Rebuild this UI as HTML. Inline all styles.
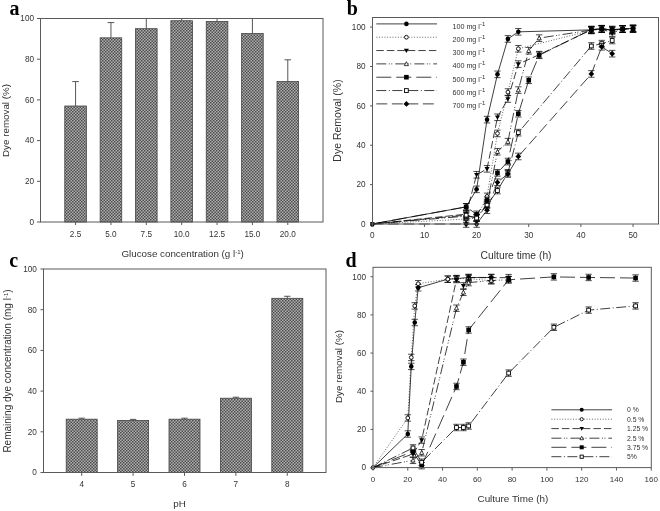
<!DOCTYPE html>
<html><head><meta charset="utf-8"><style>
html,body{margin:0;padding:0;background:#fff;width:660px;height:511px;overflow:hidden}
svg{display:block;filter:grayscale(1)}
text{font-family:"Liberation Sans",sans-serif}
.pl{font-family:"Liberation Serif",serif!important;font-weight:bold}
</style></head><body>
<svg width="660" height="511" viewBox="0 0 660 511" font-family="Liberation Sans, sans-serif" fill="#333">
<defs>
<pattern id="pt" x="0" y="0" width="3" height="3" patternUnits="userSpaceOnUse">
<rect width="3" height="3" fill="#b0b0b0"/>
<rect width="1.5" height="1.5" fill="#4c4c4c"/>
<rect x="1.5" y="1.5" width="1.5" height="1.5" fill="#4c4c4c"/>
</pattern>
</defs>
<rect width="660" height="511" fill="#fff"/>
<line x1="75.57" y1="106" x2="75.57" y2="81.59" stroke="#444" stroke-width="0.9" />
<line x1="72.27" y1="81.59" x2="78.87" y2="81.59" stroke="#444" stroke-width="0.9" />
<rect x="64.77" y="106" width="21.6" height="116" fill="url(#pt)" stroke="#444" stroke-width="0.8" />
<line x1="75.57" y1="222" x2="75.57" y2="225" stroke="#5a5a5a" stroke-width="1" />
<text x="75.57" y="236.8" font-size="8.2" text-anchor="middle" >2.5</text>
<line x1="110.94" y1="37.83" x2="110.94" y2="22.57" stroke="#444" stroke-width="0.9" />
<line x1="107.64" y1="22.57" x2="114.24" y2="22.57" stroke="#444" stroke-width="0.9" />
<rect x="100.14" y="37.83" width="21.6" height="184.17" fill="url(#pt)" stroke="#444" stroke-width="0.8" />
<line x1="110.94" y1="222" x2="110.94" y2="225" stroke="#5a5a5a" stroke-width="1" />
<text x="110.94" y="236.8" font-size="8.2" text-anchor="middle" >5.0</text>
<line x1="146.31" y1="28.68" x2="146.31" y2="18.5" stroke="#444" stroke-width="0.9" />
<rect x="135.51" y="28.68" width="21.6" height="193.32" fill="url(#pt)" stroke="#444" stroke-width="0.8" />
<line x1="146.31" y1="222" x2="146.31" y2="225" stroke="#5a5a5a" stroke-width="1" />
<text x="146.31" y="236.8" font-size="8.2" text-anchor="middle" >7.5</text>
<line x1="181.68" y1="20.74" x2="181.68" y2="18.5" stroke="#444" stroke-width="0.9" />
<rect x="170.88" y="20.74" width="21.6" height="201.26" fill="url(#pt)" stroke="#444" stroke-width="0.8" />
<line x1="181.68" y1="222" x2="181.68" y2="225" stroke="#5a5a5a" stroke-width="1" />
<text x="181.68" y="236.8" font-size="8.2" text-anchor="middle" >10.0</text>
<line x1="217.05" y1="21.55" x2="217.05" y2="18.5" stroke="#444" stroke-width="0.9" />
<rect x="206.25" y="21.55" width="21.6" height="200.45" fill="url(#pt)" stroke="#444" stroke-width="0.8" />
<line x1="217.05" y1="222" x2="217.05" y2="225" stroke="#5a5a5a" stroke-width="1" />
<text x="217.05" y="236.8" font-size="8.2" text-anchor="middle" >12.5</text>
<line x1="252.42" y1="33.56" x2="252.42" y2="18.5" stroke="#444" stroke-width="0.9" />
<rect x="241.62" y="33.56" width="21.6" height="188.44" fill="url(#pt)" stroke="#444" stroke-width="0.8" />
<line x1="252.42" y1="222" x2="252.42" y2="225" stroke="#5a5a5a" stroke-width="1" />
<text x="252.42" y="236.8" font-size="8.2" text-anchor="middle" >15.0</text>
<line x1="287.79" y1="81.59" x2="287.79" y2="59.81" stroke="#444" stroke-width="0.9" />
<line x1="284.49" y1="59.81" x2="291.09" y2="59.81" stroke="#444" stroke-width="0.9" />
<rect x="276.99" y="81.59" width="21.6" height="140.41" fill="url(#pt)" stroke="#444" stroke-width="0.8" />
<line x1="287.79" y1="222" x2="287.79" y2="225" stroke="#5a5a5a" stroke-width="1" />
<text x="287.79" y="236.8" font-size="8.2" text-anchor="middle" >20.0</text>
<rect x="40.5" y="18.5" width="282.5" height="203.5" fill="none" stroke="#5a5a5a" stroke-width="1" />
<line x1="37" y1="222" x2="40.5" y2="222" stroke="#5a5a5a" stroke-width="1" />
<text x="34" y="224.8" font-size="8.2" text-anchor="end" >0</text>
<line x1="37" y1="181.3" x2="40.5" y2="181.3" stroke="#5a5a5a" stroke-width="1" />
<text x="34" y="184.1" font-size="8.2" text-anchor="end" >20</text>
<line x1="37" y1="140.6" x2="40.5" y2="140.6" stroke="#5a5a5a" stroke-width="1" />
<text x="34" y="143.4" font-size="8.2" text-anchor="end" >40</text>
<line x1="37" y1="99.9" x2="40.5" y2="99.9" stroke="#5a5a5a" stroke-width="1" />
<text x="34" y="102.7" font-size="8.2" text-anchor="end" >60</text>
<line x1="37" y1="59.2" x2="40.5" y2="59.2" stroke="#5a5a5a" stroke-width="1" />
<text x="34" y="62" font-size="8.2" text-anchor="end" >80</text>
<line x1="37" y1="18.5" x2="40.5" y2="18.5" stroke="#5a5a5a" stroke-width="1" />
<text x="34" y="21.3" font-size="8.2" text-anchor="end" >100</text>
<text x="121.4" y="257.3" font-size="9.8" text-anchor="start" >Glucose concentration (g l<tspan dy="-3" font-size="6">-1</tspan><tspan dy="3">)</tspan></text>
<text transform="translate(8.6,120.5) rotate(-90)" font-size="9.8" text-anchor="middle">Dye removal (%)</text>
<text x="9.5" y="14.7" class="pl" font-size="20" fill="#000">a</text>
<line x1="81.7" y1="419.18" x2="81.7" y2="418.17" stroke="#444" stroke-width="0.9" />
<line x1="78.5" y1="418.17" x2="84.9" y2="418.17" stroke="#444" stroke-width="0.9" />
<rect x="66.2" y="419.18" width="31" height="53.32" fill="url(#pt)" stroke="#444" stroke-width="0.8" />
<line x1="81.7" y1="472.5" x2="81.7" y2="475.8" stroke="#5a5a5a" stroke-width="1" />
<text x="81.7" y="487.3" font-size="8.2" text-anchor="middle" >4</text>
<line x1="133.1" y1="420.4" x2="133.1" y2="419.39" stroke="#444" stroke-width="0.9" />
<line x1="129.9" y1="419.39" x2="136.3" y2="419.39" stroke="#444" stroke-width="0.9" />
<rect x="117.6" y="420.4" width="31" height="52.1" fill="url(#pt)" stroke="#444" stroke-width="0.8" />
<line x1="133.1" y1="472.5" x2="133.1" y2="475.8" stroke="#5a5a5a" stroke-width="1" />
<text x="133.1" y="487.3" font-size="8.2" text-anchor="middle" >5</text>
<line x1="184.5" y1="419.18" x2="184.5" y2="418.17" stroke="#444" stroke-width="0.9" />
<line x1="181.3" y1="418.17" x2="187.7" y2="418.17" stroke="#444" stroke-width="0.9" />
<rect x="169" y="419.18" width="31" height="53.32" fill="url(#pt)" stroke="#444" stroke-width="0.8" />
<line x1="184.5" y1="472.5" x2="184.5" y2="475.8" stroke="#5a5a5a" stroke-width="1" />
<text x="184.5" y="487.3" font-size="8.2" text-anchor="middle" >6</text>
<line x1="235.9" y1="398.22" x2="235.9" y2="397.2" stroke="#444" stroke-width="0.9" />
<line x1="232.7" y1="397.2" x2="239.1" y2="397.2" stroke="#444" stroke-width="0.9" />
<rect x="220.4" y="398.22" width="31" height="74.28" fill="url(#pt)" stroke="#444" stroke-width="0.8" />
<line x1="235.9" y1="472.5" x2="235.9" y2="475.8" stroke="#5a5a5a" stroke-width="1" />
<text x="235.9" y="487.3" font-size="8.2" text-anchor="middle" >7</text>
<line x1="287.3" y1="298.3" x2="287.3" y2="296.27" stroke="#444" stroke-width="0.9" />
<line x1="284.1" y1="296.27" x2="290.5" y2="296.27" stroke="#444" stroke-width="0.9" />
<rect x="271.8" y="298.3" width="31" height="174.2" fill="url(#pt)" stroke="#444" stroke-width="0.8" />
<line x1="287.3" y1="472.5" x2="287.3" y2="475.8" stroke="#5a5a5a" stroke-width="1" />
<text x="287.3" y="487.3" font-size="8.2" text-anchor="middle" >8</text>
<rect x="43.5" y="269" width="282.5" height="203.5" fill="none" stroke="#5a5a5a" stroke-width="1" />
<line x1="40.5" y1="472.5" x2="43.5" y2="472.5" stroke="#5a5a5a" stroke-width="1" />
<text x="36.8" y="475.3" font-size="8.2" text-anchor="end" >0</text>
<line x1="40.5" y1="431.8" x2="43.5" y2="431.8" stroke="#5a5a5a" stroke-width="1" />
<text x="36.8" y="434.6" font-size="8.2" text-anchor="end" >20</text>
<line x1="40.5" y1="391.1" x2="43.5" y2="391.1" stroke="#5a5a5a" stroke-width="1" />
<text x="36.8" y="393.9" font-size="8.2" text-anchor="end" >40</text>
<line x1="40.5" y1="350.4" x2="43.5" y2="350.4" stroke="#5a5a5a" stroke-width="1" />
<text x="36.8" y="353.2" font-size="8.2" text-anchor="end" >60</text>
<line x1="40.5" y1="309.7" x2="43.5" y2="309.7" stroke="#5a5a5a" stroke-width="1" />
<text x="36.8" y="312.5" font-size="8.2" text-anchor="end" >80</text>
<line x1="40.5" y1="269" x2="43.5" y2="269" stroke="#5a5a5a" stroke-width="1" />
<text x="36.8" y="271.8" font-size="8.2" text-anchor="end" >100</text>
<text x="173.3" y="507.3" font-size="9.8" text-anchor="start" >pH</text>
<text transform="translate(11.3,371) rotate(-90)" font-size="10" text-anchor="middle">Remaining dye concentration (mg l<tspan dy="-3" font-size="6">-1</tspan><tspan dy="3">)</tspan></text>
<text x="9.3" y="266.8" class="pl" font-size="20" fill="#000">c</text>
<polyline points="372.3,224 466.17,206.87 476.6,189.35 487.03,119.64 497.46,74.36 507.89,38.91 518.32,31.83 591.33,29.86 601.76,28.87 612.19,30.05 622.62,28.87 633.05,28.28" fill="none" stroke="#000" stroke-width="0.75" />
<polyline points="372.3,224 466.17,219.08 476.6,218.09 487.03,196.43 497.46,133.43 507.89,92.08 518.32,48.76 591.33,30.45 601.76,29.07 612.19,31.04 622.62,29.07 633.05,28.68" fill="none" stroke="#000" stroke-width="0.6" stroke-dasharray="1,1.7"/>
<polyline points="372.3,224 466.17,214.16 476.6,174.78 487.03,168.87 497.46,117.28 507.89,98.97 518.32,64.12 539.18,54.67 591.33,29.86 601.76,29.07 612.19,33.01 622.62,29.07 633.05,28.48" fill="none" stroke="#000" stroke-width="0.75" stroke-dasharray="7.5,3"/>
<polyline points="372.3,224 466.17,216.12 476.6,217.5 487.03,204.31 497.46,151.74 507.89,141.7 518.32,90.11 528.75,50.73 539.18,38.13 591.33,30.05 601.76,29.07 612.19,30.05 622.62,29.07 633.05,29.07" fill="none" stroke="#000" stroke-width="0.75" stroke-dasharray="10,2.5,1,1.5,1,3"/>
<polyline points="372.3,224 466.17,206.87 476.6,214.35 487.03,200.37 497.46,172.81 507.89,161.58 518.32,113.74 528.75,80.26 539.18,55.26 591.33,29.46 601.76,28.68 612.19,29.46 622.62,29.07 633.05,29.07" fill="none" stroke="#000" stroke-width="0.75" stroke-dasharray="15,5"/>
<polyline points="372.3,224 466.17,215.14 476.6,218.09 487.03,205.1 497.46,190.53 507.89,172.81 518.32,132.64 591.33,46 601.76,43.64 612.19,40.49" fill="none" stroke="#000" stroke-width="0.75" stroke-dasharray="10,2.5,1,2.5"/>
<polyline points="372.3,224 466.17,224 476.6,224 487.03,210.22 497.46,182.26 507.89,173.99 518.32,156.46 591.33,73.96 601.76,46.79 612.19,53.68" fill="none" stroke="#000" stroke-width="0.75" stroke-dasharray="11,4.5"/>
<path d="M466.17 203.57V210.17M462.97 203.57H469.37M462.97 210.17H469.37" stroke="#000" stroke-width="0.7" fill="none"/>
<circle cx="466.17" cy="206.87" r="2.3" fill="#000"/>
<path d="M476.6 186.05V192.65M473.4 186.05H479.8M473.4 192.65H479.8" stroke="#000" stroke-width="0.7" fill="none"/>
<circle cx="476.6" cy="189.35" r="2.3" fill="#000"/>
<path d="M487.03 116.34V122.94M483.83 116.34H490.23M483.83 122.94H490.23" stroke="#000" stroke-width="0.7" fill="none"/>
<circle cx="487.03" cy="119.64" r="2.3" fill="#000"/>
<path d="M497.46 71.06V77.66M494.26 71.06H500.66M494.26 77.66H500.66" stroke="#000" stroke-width="0.7" fill="none"/>
<circle cx="497.46" cy="74.36" r="2.3" fill="#000"/>
<path d="M507.89 35.61V42.21M504.69 35.61H511.09M504.69 42.21H511.09" stroke="#000" stroke-width="0.7" fill="none"/>
<circle cx="507.89" cy="38.91" r="2.3" fill="#000"/>
<path d="M518.32 28.53V35.13M515.12 28.53H521.52M515.12 35.13H521.52" stroke="#000" stroke-width="0.7" fill="none"/>
<circle cx="518.32" cy="31.83" r="2.3" fill="#000"/>
<path d="M591.33 26.56V33.16M588.13 26.56H594.53M588.13 33.16H594.53" stroke="#000" stroke-width="0.7" fill="none"/>
<circle cx="591.33" cy="29.86" r="2.3" fill="#000"/>
<path d="M601.76 25.57V32.17M598.56 25.57H604.96M598.56 32.17H604.96" stroke="#000" stroke-width="0.7" fill="none"/>
<circle cx="601.76" cy="28.87" r="2.3" fill="#000"/>
<path d="M612.19 26.75V33.35M608.99 26.75H615.39M608.99 33.35H615.39" stroke="#000" stroke-width="0.7" fill="none"/>
<circle cx="612.19" cy="30.05" r="2.3" fill="#000"/>
<path d="M622.62 25.57V32.17M619.42 25.57H625.82M619.42 32.17H625.82" stroke="#000" stroke-width="0.7" fill="none"/>
<circle cx="622.62" cy="28.87" r="2.3" fill="#000"/>
<path d="M633.05 24.98V31.58M629.85 24.98H636.25M629.85 31.58H636.25" stroke="#000" stroke-width="0.7" fill="none"/>
<circle cx="633.05" cy="28.28" r="2.3" fill="#000"/>
<path d="M466.17 215.78V222.38M462.97 215.78H469.37M462.97 222.38H469.37" stroke="#000" stroke-width="0.7" fill="none"/>
<circle cx="466.17" cy="219.08" r="1.9" fill="#fff" stroke="#000" stroke-width="0.9"/>
<path d="M476.6 214.79V221.39M473.4 214.79H479.8M473.4 221.39H479.8" stroke="#000" stroke-width="0.7" fill="none"/>
<circle cx="476.6" cy="218.09" r="1.9" fill="#fff" stroke="#000" stroke-width="0.9"/>
<path d="M487.03 193.13V199.73M483.83 193.13H490.23M483.83 199.73H490.23" stroke="#000" stroke-width="0.7" fill="none"/>
<circle cx="487.03" cy="196.43" r="1.9" fill="#fff" stroke="#000" stroke-width="0.9"/>
<path d="M497.46 130.13V136.73M494.26 130.13H500.66M494.26 136.73H500.66" stroke="#000" stroke-width="0.7" fill="none"/>
<circle cx="497.46" cy="133.43" r="1.9" fill="#fff" stroke="#000" stroke-width="0.9"/>
<path d="M507.89 88.78V95.38M504.69 88.78H511.09M504.69 95.38H511.09" stroke="#000" stroke-width="0.7" fill="none"/>
<circle cx="507.89" cy="92.08" r="1.9" fill="#fff" stroke="#000" stroke-width="0.9"/>
<path d="M518.32 45.46V52.06M515.12 45.46H521.52M515.12 52.06H521.52" stroke="#000" stroke-width="0.7" fill="none"/>
<circle cx="518.32" cy="48.76" r="1.9" fill="#fff" stroke="#000" stroke-width="0.9"/>
<path d="M591.33 27.15V33.75M588.13 27.15H594.53M588.13 33.75H594.53" stroke="#000" stroke-width="0.7" fill="none"/>
<circle cx="591.33" cy="30.45" r="1.9" fill="#fff" stroke="#000" stroke-width="0.9"/>
<path d="M601.76 25.77V32.37M598.56 25.77H604.96M598.56 32.37H604.96" stroke="#000" stroke-width="0.7" fill="none"/>
<circle cx="601.76" cy="29.07" r="1.9" fill="#fff" stroke="#000" stroke-width="0.9"/>
<path d="M612.19 27.74V34.34M608.99 27.74H615.39M608.99 34.34H615.39" stroke="#000" stroke-width="0.7" fill="none"/>
<circle cx="612.19" cy="31.04" r="1.9" fill="#fff" stroke="#000" stroke-width="0.9"/>
<path d="M622.62 25.77V32.37M619.42 25.77H625.82M619.42 32.37H625.82" stroke="#000" stroke-width="0.7" fill="none"/>
<circle cx="622.62" cy="29.07" r="1.9" fill="#fff" stroke="#000" stroke-width="0.9"/>
<path d="M633.05 25.38V31.98M629.85 25.38H636.25M629.85 31.98H636.25" stroke="#000" stroke-width="0.7" fill="none"/>
<circle cx="633.05" cy="28.68" r="1.9" fill="#fff" stroke="#000" stroke-width="0.9"/>
<path d="M466.17 210.85V217.46M462.97 210.85H469.37M462.97 217.46H469.37" stroke="#000" stroke-width="0.7" fill="none"/>
<path d="M463.64 212.31H468.7L466.17 216.69Z" fill="#000"/>
<path d="M476.6 171.47V178.08M473.4 171.47H479.8M473.4 178.08H479.8" stroke="#000" stroke-width="0.7" fill="none"/>
<path d="M474.07 172.94H479.13L476.6 177.31Z" fill="#000"/>
<path d="M487.03 165.57V172.17M483.83 165.57H490.23M483.83 172.17H490.23" stroke="#000" stroke-width="0.7" fill="none"/>
<path d="M484.5 167.03H489.56L487.03 171.4Z" fill="#000"/>
<path d="M497.46 113.98V120.58M494.26 113.98H500.66M494.26 120.58H500.66" stroke="#000" stroke-width="0.7" fill="none"/>
<path d="M494.93 115.44H499.99L497.46 119.81Z" fill="#000"/>
<path d="M507.89 95.67V102.27M504.69 95.67H511.09M504.69 102.27H511.09" stroke="#000" stroke-width="0.7" fill="none"/>
<path d="M505.36 97.13H510.42L507.89 101.5Z" fill="#000"/>
<path d="M518.32 60.82V67.42M515.12 60.82H521.52M515.12 67.42H521.52" stroke="#000" stroke-width="0.7" fill="none"/>
<path d="M515.79 62.28H520.85L518.32 66.65Z" fill="#000"/>
<path d="M539.18 51.37V57.97M535.98 51.37H542.38M535.98 57.97H542.38" stroke="#000" stroke-width="0.7" fill="none"/>
<path d="M536.65 52.83H541.71L539.18 57.2Z" fill="#000"/>
<path d="M591.33 26.56V33.16M588.13 26.56H594.53M588.13 33.16H594.53" stroke="#000" stroke-width="0.7" fill="none"/>
<path d="M588.8 28.02H593.86L591.33 32.39Z" fill="#000"/>
<path d="M601.76 25.77V32.37M598.56 25.77H604.96M598.56 32.37H604.96" stroke="#000" stroke-width="0.7" fill="none"/>
<path d="M599.23 27.23H604.29L601.76 31.6Z" fill="#000"/>
<path d="M612.19 29.71V36.31M608.99 29.71H615.39M608.99 36.31H615.39" stroke="#000" stroke-width="0.7" fill="none"/>
<path d="M609.66 31.17H614.72L612.19 35.54Z" fill="#000"/>
<path d="M622.62 25.77V32.37M619.42 25.77H625.82M619.42 32.37H625.82" stroke="#000" stroke-width="0.7" fill="none"/>
<path d="M620.09 27.23H625.15L622.62 31.6Z" fill="#000"/>
<path d="M633.05 25.18V31.78M629.85 25.18H636.25M629.85 31.78H636.25" stroke="#000" stroke-width="0.7" fill="none"/>
<path d="M630.52 26.64H635.58L633.05 31.01Z" fill="#000"/>
<path d="M466.17 212.82V219.42M462.97 212.82H469.37M462.97 219.42H469.37" stroke="#000" stroke-width="0.7" fill="none"/>
<path d="M464.1 217.85H468.24L466.17 213.94Z" fill="#fff" stroke="#000" stroke-width="0.75"/>
<path d="M476.6 214.2V220.8M473.4 214.2H479.8M473.4 220.8H479.8" stroke="#000" stroke-width="0.7" fill="none"/>
<path d="M474.53 219.23H478.67L476.6 215.32Z" fill="#fff" stroke="#000" stroke-width="0.75"/>
<path d="M487.03 201.01V207.61M483.83 201.01H490.23M483.83 207.61H490.23" stroke="#000" stroke-width="0.7" fill="none"/>
<path d="M484.96 206.03H489.1L487.03 202.12Z" fill="#fff" stroke="#000" stroke-width="0.75"/>
<path d="M497.46 148.44V155.04M494.26 148.44H500.66M494.26 155.04H500.66" stroke="#000" stroke-width="0.7" fill="none"/>
<path d="M495.39 153.46H499.53L497.46 149.55Z" fill="#fff" stroke="#000" stroke-width="0.75"/>
<path d="M507.89 138.4V145M504.69 138.4H511.09M504.69 145H511.09" stroke="#000" stroke-width="0.7" fill="none"/>
<path d="M505.82 143.42H509.96L507.89 139.51Z" fill="#fff" stroke="#000" stroke-width="0.75"/>
<path d="M518.32 86.81V93.41M515.12 86.81H521.52M515.12 93.41H521.52" stroke="#000" stroke-width="0.7" fill="none"/>
<path d="M516.25 91.83H520.39L518.32 87.92Z" fill="#fff" stroke="#000" stroke-width="0.75"/>
<path d="M528.75 47.43V54.03M525.55 47.43H531.95M525.55 54.03H531.95" stroke="#000" stroke-width="0.7" fill="none"/>
<path d="M526.68 52.45H530.82L528.75 48.54Z" fill="#fff" stroke="#000" stroke-width="0.75"/>
<path d="M539.18 34.83V41.43M535.98 34.83H542.38M535.98 41.43H542.38" stroke="#000" stroke-width="0.7" fill="none"/>
<path d="M537.11 39.85H541.25L539.18 35.94Z" fill="#fff" stroke="#000" stroke-width="0.75"/>
<path d="M591.33 26.75V33.35M588.13 26.75H594.53M588.13 33.35H594.53" stroke="#000" stroke-width="0.7" fill="none"/>
<path d="M589.26 31.78H593.4L591.33 27.87Z" fill="#fff" stroke="#000" stroke-width="0.75"/>
<path d="M601.76 25.77V32.37M598.56 25.77H604.96M598.56 32.37H604.96" stroke="#000" stroke-width="0.7" fill="none"/>
<path d="M599.69 30.79H603.83L601.76 26.88Z" fill="#fff" stroke="#000" stroke-width="0.75"/>
<path d="M612.19 26.75V33.35M608.99 26.75H615.39M608.99 33.35H615.39" stroke="#000" stroke-width="0.7" fill="none"/>
<path d="M610.12 31.78H614.26L612.19 27.87Z" fill="#fff" stroke="#000" stroke-width="0.75"/>
<path d="M622.62 25.77V32.37M619.42 25.77H625.82M619.42 32.37H625.82" stroke="#000" stroke-width="0.7" fill="none"/>
<path d="M620.55 30.79H624.69L622.62 26.88Z" fill="#fff" stroke="#000" stroke-width="0.75"/>
<path d="M633.05 25.77V32.37M629.85 25.77H636.25M629.85 32.37H636.25" stroke="#000" stroke-width="0.7" fill="none"/>
<path d="M630.98 30.79H635.12L633.05 26.88Z" fill="#fff" stroke="#000" stroke-width="0.75"/>
<path d="M466.17 203.57V210.17M462.97 203.57H469.37M462.97 210.17H469.37" stroke="#000" stroke-width="0.7" fill="none"/>
<rect x="463.87" y="204.57" width="4.6" height="4.6" fill="#000"/>
<path d="M476.6 211.05V217.65M473.4 211.05H479.8M473.4 217.65H479.8" stroke="#000" stroke-width="0.7" fill="none"/>
<rect x="474.3" y="212.05" width="4.6" height="4.6" fill="#000"/>
<path d="M487.03 197.07V203.67M483.83 197.07H490.23M483.83 203.67H490.23" stroke="#000" stroke-width="0.7" fill="none"/>
<rect x="484.73" y="198.07" width="4.6" height="4.6" fill="#000"/>
<path d="M497.46 169.51V176.11M494.26 169.51H500.66M494.26 176.11H500.66" stroke="#000" stroke-width="0.7" fill="none"/>
<rect x="495.16" y="170.51" width="4.6" height="4.6" fill="#000"/>
<path d="M507.89 158.28V164.88M504.69 158.28H511.09M504.69 164.88H511.09" stroke="#000" stroke-width="0.7" fill="none"/>
<rect x="505.59" y="159.28" width="4.6" height="4.6" fill="#000"/>
<path d="M518.32 110.44V117.04M515.12 110.44H521.52M515.12 117.04H521.52" stroke="#000" stroke-width="0.7" fill="none"/>
<rect x="516.02" y="111.44" width="4.6" height="4.6" fill="#000"/>
<path d="M528.75 76.96V83.56M525.55 76.96H531.95M525.55 83.56H531.95" stroke="#000" stroke-width="0.7" fill="none"/>
<rect x="526.45" y="77.96" width="4.6" height="4.6" fill="#000"/>
<path d="M539.18 51.96V58.56M535.98 51.96H542.38M535.98 58.56H542.38" stroke="#000" stroke-width="0.7" fill="none"/>
<rect x="536.88" y="52.96" width="4.6" height="4.6" fill="#000"/>
<path d="M591.33 26.16V32.76M588.13 26.16H594.53M588.13 32.76H594.53" stroke="#000" stroke-width="0.7" fill="none"/>
<rect x="589.03" y="27.16" width="4.6" height="4.6" fill="#000"/>
<path d="M601.76 25.38V31.98M598.56 25.38H604.96M598.56 31.98H604.96" stroke="#000" stroke-width="0.7" fill="none"/>
<rect x="599.46" y="26.38" width="4.6" height="4.6" fill="#000"/>
<path d="M612.19 26.16V32.76M608.99 26.16H615.39M608.99 32.76H615.39" stroke="#000" stroke-width="0.7" fill="none"/>
<rect x="609.89" y="27.16" width="4.6" height="4.6" fill="#000"/>
<path d="M622.62 25.77V32.37M619.42 25.77H625.82M619.42 32.37H625.82" stroke="#000" stroke-width="0.7" fill="none"/>
<rect x="620.32" y="26.77" width="4.6" height="4.6" fill="#000"/>
<path d="M633.05 25.77V32.37M629.85 25.77H636.25M629.85 32.37H636.25" stroke="#000" stroke-width="0.7" fill="none"/>
<rect x="630.75" y="26.77" width="4.6" height="4.6" fill="#000"/>
<path d="M466.17 211.84V218.44M462.97 211.84H469.37M462.97 218.44H469.37" stroke="#000" stroke-width="0.7" fill="none"/>
<rect x="464.27" y="213.24" width="3.8" height="3.8" fill="#fff" stroke="#000" stroke-width="0.9"/>
<path d="M476.6 214.79V221.39M473.4 214.79H479.8M473.4 221.39H479.8" stroke="#000" stroke-width="0.7" fill="none"/>
<rect x="474.7" y="216.19" width="3.8" height="3.8" fill="#fff" stroke="#000" stroke-width="0.9"/>
<path d="M487.03 201.8V208.4M483.83 201.8H490.23M483.83 208.4H490.23" stroke="#000" stroke-width="0.7" fill="none"/>
<rect x="485.13" y="203.2" width="3.8" height="3.8" fill="#fff" stroke="#000" stroke-width="0.9"/>
<path d="M497.46 187.23V193.83M494.26 187.23H500.66M494.26 193.83H500.66" stroke="#000" stroke-width="0.7" fill="none"/>
<rect x="495.56" y="188.63" width="3.8" height="3.8" fill="#fff" stroke="#000" stroke-width="0.9"/>
<path d="M507.89 169.51V176.11M504.69 169.51H511.09M504.69 176.11H511.09" stroke="#000" stroke-width="0.7" fill="none"/>
<rect x="505.99" y="170.91" width="3.8" height="3.8" fill="#fff" stroke="#000" stroke-width="0.9"/>
<path d="M518.32 129.34V135.94M515.12 129.34H521.52M515.12 135.94H521.52" stroke="#000" stroke-width="0.7" fill="none"/>
<rect x="516.42" y="130.74" width="3.8" height="3.8" fill="#fff" stroke="#000" stroke-width="0.9"/>
<path d="M591.33 42.7V49.3M588.13 42.7H594.53M588.13 49.3H594.53" stroke="#000" stroke-width="0.7" fill="none"/>
<rect x="589.43" y="44.1" width="3.8" height="3.8" fill="#fff" stroke="#000" stroke-width="0.9"/>
<path d="M601.76 40.34V46.94M598.56 40.34H604.96M598.56 46.94H604.96" stroke="#000" stroke-width="0.7" fill="none"/>
<rect x="599.86" y="41.74" width="3.8" height="3.8" fill="#fff" stroke="#000" stroke-width="0.9"/>
<path d="M612.19 37.19V43.79M608.99 37.19H615.39M608.99 43.79H615.39" stroke="#000" stroke-width="0.7" fill="none"/>
<rect x="610.29" y="38.59" width="3.8" height="3.8" fill="#fff" stroke="#000" stroke-width="0.9"/>
<path d="M466.17 220.7V227.3M462.97 220.7H469.37M462.97 227.3H469.37" stroke="#000" stroke-width="0.7" fill="none"/>
<path d="M466.17 221.12L469.05 224L466.17 226.88L463.3 224Z" fill="#000"/>
<path d="M476.6 220.7V227.3M473.4 220.7H479.8M473.4 227.3H479.8" stroke="#000" stroke-width="0.7" fill="none"/>
<path d="M476.6 221.12L479.48 224L476.6 226.88L473.73 224Z" fill="#000"/>
<path d="M487.03 206.92V213.52M483.83 206.92H490.23M483.83 213.52H490.23" stroke="#000" stroke-width="0.7" fill="none"/>
<path d="M487.03 207.34L489.9 210.22L487.03 213.09L484.15 210.22Z" fill="#000"/>
<path d="M497.46 178.96V185.56M494.26 178.96H500.66M494.26 185.56H500.66" stroke="#000" stroke-width="0.7" fill="none"/>
<path d="M497.46 179.38L500.34 182.26L497.46 185.13L494.59 182.26Z" fill="#000"/>
<path d="M507.89 170.69V177.29M504.69 170.69H511.09M504.69 177.29H511.09" stroke="#000" stroke-width="0.7" fill="none"/>
<path d="M507.89 171.11L510.76 173.99L507.89 176.86L505.01 173.99Z" fill="#000"/>
<path d="M518.32 153.16V159.76M515.12 153.16H521.52M515.12 159.76H521.52" stroke="#000" stroke-width="0.7" fill="none"/>
<path d="M518.32 153.59L521.19 156.46L518.32 159.34L515.44 156.46Z" fill="#000"/>
<path d="M591.33 70.66V77.26M588.13 70.66H594.53M588.13 77.26H594.53" stroke="#000" stroke-width="0.7" fill="none"/>
<path d="M591.33 71.09L594.21 73.96L591.33 76.84L588.46 73.96Z" fill="#000"/>
<path d="M601.76 43.49V50.09M598.56 43.49H604.96M598.56 50.09H604.96" stroke="#000" stroke-width="0.7" fill="none"/>
<path d="M601.76 43.91L604.63 46.79L601.76 49.66L598.88 46.79Z" fill="#000"/>
<path d="M612.19 50.38V56.98M608.99 50.38H615.39M608.99 56.98H615.39" stroke="#000" stroke-width="0.7" fill="none"/>
<path d="M612.19 50.81L615.07 53.68L612.19 56.56L609.32 53.68Z" fill="#000"/>
<path d="M369.77 222.16H374.83L372.3 226.53Z" fill="#000"/>
<circle cx="372.3" cy="224.5" r="2.3" fill="#000"/>
<rect x="372.5" y="17.5" width="286" height="206.5" fill="none" stroke="#5a5a5a" stroke-width="1" />
<line x1="370" y1="224" x2="372.5" y2="224" stroke="#5a5a5a" stroke-width="1" />
<text x="365.5" y="226.8" font-size="8.2" text-anchor="end" >0</text>
<line x1="370" y1="184.62" x2="372.5" y2="184.62" stroke="#5a5a5a" stroke-width="1" />
<text x="365.5" y="187.42" font-size="8.2" text-anchor="end" >20</text>
<line x1="370" y1="145.24" x2="372.5" y2="145.24" stroke="#5a5a5a" stroke-width="1" />
<text x="365.5" y="148.04" font-size="8.2" text-anchor="end" >40</text>
<line x1="370" y1="105.86" x2="372.5" y2="105.86" stroke="#5a5a5a" stroke-width="1" />
<text x="365.5" y="108.66" font-size="8.2" text-anchor="end" >60</text>
<line x1="370" y1="66.48" x2="372.5" y2="66.48" stroke="#5a5a5a" stroke-width="1" />
<text x="365.5" y="69.28" font-size="8.2" text-anchor="end" >80</text>
<line x1="370" y1="27.1" x2="372.5" y2="27.1" stroke="#5a5a5a" stroke-width="1" />
<text x="365.5" y="29.9" font-size="8.2" text-anchor="end" >100</text>
<line x1="372.3" y1="224" x2="372.3" y2="227" stroke="#5a5a5a" stroke-width="1" />
<text x="372.3" y="238" font-size="8.2" text-anchor="middle" >0</text>
<line x1="424.45" y1="224" x2="424.45" y2="227" stroke="#5a5a5a" stroke-width="1" />
<text x="424.45" y="238" font-size="8.2" text-anchor="middle" >10</text>
<line x1="476.6" y1="224" x2="476.6" y2="227" stroke="#5a5a5a" stroke-width="1" />
<text x="476.6" y="238" font-size="8.2" text-anchor="middle" >20</text>
<line x1="528.75" y1="224" x2="528.75" y2="227" stroke="#5a5a5a" stroke-width="1" />
<text x="528.75" y="238" font-size="8.2" text-anchor="middle" >30</text>
<line x1="580.9" y1="224" x2="580.9" y2="227" stroke="#5a5a5a" stroke-width="1" />
<text x="580.9" y="238" font-size="8.2" text-anchor="middle" >40</text>
<line x1="633.05" y1="224" x2="633.05" y2="227" stroke="#5a5a5a" stroke-width="1" />
<text x="633.05" y="238" font-size="8.2" text-anchor="middle" >50</text>
<text x="480.6" y="259.2" font-size="10.3" text-anchor="start" >Culture time (h)</text>
<text transform="translate(341,120.5) rotate(-90)" font-size="10.5" text-anchor="middle">Dye Removal (%)</text>
<text x="346.8" y="14.6" class="pl" font-size="20" fill="#000">b</text>
<line x1="376.3" y1="23.9" x2="437" y2="23.9" stroke="#000" stroke-width="0.75" />
<circle cx="406.4" cy="23.9" r="2.3" fill="#000"/>
<text x="452.4" y="28.5" font-size="7.2" text-anchor="start" >100 mg l<tspan dy="-3" font-size="6">-1</tspan><tspan dy="3"></tspan></text>
<line x1="376.3" y1="37.23" x2="437" y2="37.23" stroke="#000" stroke-width="0.6" stroke-dasharray="1,1.7"/>
<circle cx="406.4" cy="37.23" r="1.9" fill="#fff" stroke="#000" stroke-width="0.9"/>
<text x="452.4" y="41.83" font-size="7.2" text-anchor="start" >200 mg l<tspan dy="-3" font-size="6">-1</tspan><tspan dy="3"></tspan></text>
<line x1="376.3" y1="50.56" x2="437" y2="50.56" stroke="#000" stroke-width="0.75" stroke-dasharray="7.5,3"/>
<path d="M403.87 48.72H408.93L406.4 53.09Z" fill="#000"/>
<text x="452.4" y="55.16" font-size="7.2" text-anchor="start" >300 mg l<tspan dy="-3" font-size="6">-1</tspan><tspan dy="3"></tspan></text>
<line x1="376.3" y1="63.89" x2="437" y2="63.89" stroke="#000" stroke-width="0.75" stroke-dasharray="10,2.5,1,1.5,1,3"/>
<path d="M404.33 65.61H408.47L406.4 61.7Z" fill="#fff" stroke="#000" stroke-width="0.75"/>
<text x="452.4" y="68.49" font-size="7.2" text-anchor="start" >400 mg l<tspan dy="-3" font-size="6">-1</tspan><tspan dy="3"></tspan></text>
<line x1="376.3" y1="77.22" x2="437" y2="77.22" stroke="#000" stroke-width="0.75" stroke-dasharray="15,5"/>
<rect x="404.1" y="74.92" width="4.6" height="4.6" fill="#000"/>
<text x="452.4" y="81.82" font-size="7.2" text-anchor="start" >500 mg l<tspan dy="-3" font-size="6">-1</tspan><tspan dy="3"></tspan></text>
<line x1="376.3" y1="90.55" x2="437" y2="90.55" stroke="#000" stroke-width="0.75" stroke-dasharray="10,2.5,1,2.5"/>
<rect x="404.5" y="88.65" width="3.8" height="3.8" fill="#fff" stroke="#000" stroke-width="0.9"/>
<text x="452.4" y="95.15" font-size="7.2" text-anchor="start" >600 mg l<tspan dy="-3" font-size="6">-1</tspan><tspan dy="3"></tspan></text>
<line x1="376.3" y1="103.88" x2="437" y2="103.88" stroke="#000" stroke-width="0.75" stroke-dasharray="11,4.5"/>
<path d="M406.4 101L409.27 103.88L406.4 106.75L403.52 103.88Z" fill="#000"/>
<text x="452.4" y="108.48" font-size="7.2" text-anchor="start" >700 mg l<tspan dy="-3" font-size="6">-1</tspan><tspan dy="3"></tspan></text>
<polyline points="373,467.6 407.78,434 411.26,366.42 414.74,322.52 418.21,287.77 447.78,279.18 456.47,278.61 468.64,277.46 491.25,277.46" fill="none" stroke="#000" stroke-width="0.75" />
<polyline points="373,467.6 407.78,417.97 411.26,357.45 414.74,305.91 418.21,283.76 447.78,279.18 456.47,278.61 468.64,278.61 491.25,280.71" fill="none" stroke="#000" stroke-width="0.6" stroke-dasharray="1,1.7"/>
<polyline points="373,467.6 413,454.05 421.69,440.11 456.47,279.56 463.43,285.86 468.64,277.65 491.25,277.65 508.64,277.65" fill="none" stroke="#000" stroke-width="0.75" stroke-dasharray="7.5,3"/>
<polyline points="373,467.6 413,460.35 421.69,452.71 456.47,308.2 463.43,292.35 468.64,282.62 491.25,280.52 508.64,279.75" fill="none" stroke="#000" stroke-width="0.75" stroke-dasharray="10,2.5,1,1.5,1,3"/>
<polyline points="373,467.6 413,451.37 421.69,465.69 456.47,386.47 463.43,362.22 468.64,329.96 508.64,279.75 553.86,276.89 588.64,277.46 635.59,278.04" fill="none" stroke="#000" stroke-width="0.75" stroke-dasharray="15,5"/>
<polyline points="373,467.6 413,447.94 421.69,462.25 456.47,427.51 463.43,427.51 468.64,425.98 508.64,373.1 553.86,327.29 588.64,310.11 635.59,305.91" fill="none" stroke="#000" stroke-width="0.75" stroke-dasharray="10,2.5,1,2.5"/>
<path d="M407.78 430.8V437.2M404.58 430.8H410.98M404.58 437.2H410.98" stroke="#000" stroke-width="0.7" fill="none"/>
<circle cx="407.78" cy="434" r="2.3" fill="#000"/>
<path d="M411.26 363.22V369.62M408.06 363.22H414.46M408.06 369.62H414.46" stroke="#000" stroke-width="0.7" fill="none"/>
<circle cx="411.26" cy="366.42" r="2.3" fill="#000"/>
<path d="M414.74 319.32V325.72M411.54 319.32H417.94M411.54 325.72H417.94" stroke="#000" stroke-width="0.7" fill="none"/>
<circle cx="414.74" cy="322.52" r="2.3" fill="#000"/>
<path d="M418.21 284.57V290.97M415.01 284.57H421.41M415.01 290.97H421.41" stroke="#000" stroke-width="0.7" fill="none"/>
<circle cx="418.21" cy="287.77" r="2.3" fill="#000"/>
<path d="M447.78 275.98V282.38M444.58 275.98H450.98M444.58 282.38H450.98" stroke="#000" stroke-width="0.7" fill="none"/>
<circle cx="447.78" cy="279.18" r="2.3" fill="#000"/>
<path d="M456.47 275.41V281.81M453.27 275.41H459.67M453.27 281.81H459.67" stroke="#000" stroke-width="0.7" fill="none"/>
<circle cx="456.47" cy="278.61" r="2.3" fill="#000"/>
<path d="M468.64 274.26V280.66M465.44 274.26H471.84M465.44 280.66H471.84" stroke="#000" stroke-width="0.7" fill="none"/>
<circle cx="468.64" cy="277.46" r="2.3" fill="#000"/>
<path d="M491.25 274.26V280.66M488.05 274.26H494.45M488.05 280.66H494.45" stroke="#000" stroke-width="0.7" fill="none"/>
<circle cx="491.25" cy="277.46" r="2.3" fill="#000"/>
<path d="M407.78 414.77V421.17M404.58 414.77H410.98M404.58 421.17H410.98" stroke="#000" stroke-width="0.7" fill="none"/>
<circle cx="407.78" cy="417.97" r="1.9" fill="#fff" stroke="#000" stroke-width="0.9"/>
<path d="M411.26 354.25V360.65M408.06 354.25H414.46M408.06 360.65H414.46" stroke="#000" stroke-width="0.7" fill="none"/>
<circle cx="411.26" cy="357.45" r="1.9" fill="#fff" stroke="#000" stroke-width="0.9"/>
<path d="M414.74 302.71V309.11M411.54 302.71H417.94M411.54 309.11H417.94" stroke="#000" stroke-width="0.7" fill="none"/>
<circle cx="414.74" cy="305.91" r="1.9" fill="#fff" stroke="#000" stroke-width="0.9"/>
<path d="M418.21 280.56V286.96M415.01 280.56H421.41M415.01 286.96H421.41" stroke="#000" stroke-width="0.7" fill="none"/>
<circle cx="418.21" cy="283.76" r="1.9" fill="#fff" stroke="#000" stroke-width="0.9"/>
<path d="M447.78 275.98V282.38M444.58 275.98H450.98M444.58 282.38H450.98" stroke="#000" stroke-width="0.7" fill="none"/>
<circle cx="447.78" cy="279.18" r="1.9" fill="#fff" stroke="#000" stroke-width="0.9"/>
<path d="M456.47 275.41V281.81M453.27 275.41H459.67M453.27 281.81H459.67" stroke="#000" stroke-width="0.7" fill="none"/>
<circle cx="456.47" cy="278.61" r="1.9" fill="#fff" stroke="#000" stroke-width="0.9"/>
<path d="M468.64 275.41V281.81M465.44 275.41H471.84M465.44 281.81H471.84" stroke="#000" stroke-width="0.7" fill="none"/>
<circle cx="468.64" cy="278.61" r="1.9" fill="#fff" stroke="#000" stroke-width="0.9"/>
<path d="M491.25 277.51V283.91M488.05 277.51H494.45M488.05 283.91H494.45" stroke="#000" stroke-width="0.7" fill="none"/>
<circle cx="491.25" cy="280.71" r="1.9" fill="#fff" stroke="#000" stroke-width="0.9"/>
<path d="M413 450.85V457.25M409.8 450.85H416.2M409.8 457.25H416.2" stroke="#000" stroke-width="0.7" fill="none"/>
<path d="M410.47 452.21H415.53L413 456.58Z" fill="#000"/>
<path d="M421.69 436.91V443.31M418.49 436.91H424.89M418.49 443.31H424.89" stroke="#000" stroke-width="0.7" fill="none"/>
<path d="M419.16 438.27H424.22L421.69 442.64Z" fill="#000"/>
<path d="M456.47 276.36V282.76M453.27 276.36H459.67M453.27 282.76H459.67" stroke="#000" stroke-width="0.7" fill="none"/>
<path d="M453.94 277.72H459L456.47 282.09Z" fill="#000"/>
<path d="M463.43 282.66V289.06M460.23 282.66H466.63M460.23 289.06H466.63" stroke="#000" stroke-width="0.7" fill="none"/>
<path d="M460.9 284.02H465.96L463.43 288.39Z" fill="#000"/>
<path d="M468.64 274.45V280.85M465.44 274.45H471.84M465.44 280.85H471.84" stroke="#000" stroke-width="0.7" fill="none"/>
<path d="M466.12 275.81H471.17L468.64 280.18Z" fill="#000"/>
<path d="M491.25 274.45V280.85M488.05 274.45H494.45M488.05 280.85H494.45" stroke="#000" stroke-width="0.7" fill="none"/>
<path d="M488.72 275.81H493.78L491.25 280.18Z" fill="#000"/>
<path d="M508.64 274.45V280.85M505.44 274.45H511.84M505.44 280.85H511.84" stroke="#000" stroke-width="0.7" fill="none"/>
<path d="M506.11 275.81H511.17L508.64 280.18Z" fill="#000"/>
<path d="M413 457.15V463.55M409.8 457.15H416.2M409.8 463.55H416.2" stroke="#000" stroke-width="0.7" fill="none"/>
<path d="M410.93 462.07H415.07L413 458.16Z" fill="#fff" stroke="#000" stroke-width="0.75"/>
<path d="M421.69 449.51V455.91M418.49 449.51H424.89M418.49 455.91H424.89" stroke="#000" stroke-width="0.7" fill="none"/>
<path d="M419.62 454.43H423.76L421.69 450.52Z" fill="#fff" stroke="#000" stroke-width="0.75"/>
<path d="M456.47 305V311.4M453.27 305H459.67M453.27 311.4H459.67" stroke="#000" stroke-width="0.7" fill="none"/>
<path d="M454.4 309.92H458.54L456.47 306.01Z" fill="#fff" stroke="#000" stroke-width="0.75"/>
<path d="M463.43 289.15V295.55M460.23 289.15H466.63M460.23 295.55H466.63" stroke="#000" stroke-width="0.7" fill="none"/>
<path d="M461.36 294.08H465.5L463.43 290.17Z" fill="#fff" stroke="#000" stroke-width="0.75"/>
<path d="M468.64 279.42V285.82M465.44 279.42H471.84M465.44 285.82H471.84" stroke="#000" stroke-width="0.7" fill="none"/>
<path d="M466.57 284.34H470.71L468.64 280.43Z" fill="#fff" stroke="#000" stroke-width="0.75"/>
<path d="M491.25 277.32V283.72M488.05 277.32H494.45M488.05 283.72H494.45" stroke="#000" stroke-width="0.7" fill="none"/>
<path d="M489.18 282.24H493.32L491.25 278.33Z" fill="#fff" stroke="#000" stroke-width="0.75"/>
<path d="M508.64 276.55V282.95M505.44 276.55H511.84M505.44 282.95H511.84" stroke="#000" stroke-width="0.7" fill="none"/>
<path d="M506.57 281.48H510.71L508.64 277.57Z" fill="#fff" stroke="#000" stroke-width="0.75"/>
<path d="M413 448.17V454.57M409.8 448.17H416.2M409.8 454.57H416.2" stroke="#000" stroke-width="0.7" fill="none"/>
<rect x="410.7" y="449.07" width="4.6" height="4.6" fill="#000"/>
<path d="M421.69 462.49V468.89M418.49 462.49H424.89M418.49 468.89H424.89" stroke="#000" stroke-width="0.7" fill="none"/>
<rect x="419.39" y="463.39" width="4.6" height="4.6" fill="#000"/>
<path d="M456.47 383.27V389.67M453.27 383.27H459.67M453.27 389.67H459.67" stroke="#000" stroke-width="0.7" fill="none"/>
<rect x="454.17" y="384.17" width="4.6" height="4.6" fill="#000"/>
<path d="M463.43 359.02V365.42M460.23 359.02H466.63M460.23 365.42H466.63" stroke="#000" stroke-width="0.7" fill="none"/>
<rect x="461.13" y="359.92" width="4.6" height="4.6" fill="#000"/>
<path d="M468.64 326.76V333.16M465.44 326.76H471.84M465.44 333.16H471.84" stroke="#000" stroke-width="0.7" fill="none"/>
<rect x="466.34" y="327.66" width="4.6" height="4.6" fill="#000"/>
<path d="M508.64 276.55V282.95M505.44 276.55H511.84M505.44 282.95H511.84" stroke="#000" stroke-width="0.7" fill="none"/>
<rect x="506.34" y="277.45" width="4.6" height="4.6" fill="#000"/>
<path d="M553.86 273.69V280.09M550.66 273.69H557.06M550.66 280.09H557.06" stroke="#000" stroke-width="0.7" fill="none"/>
<rect x="551.56" y="274.59" width="4.6" height="4.6" fill="#000"/>
<path d="M588.64 274.26V280.66M585.44 274.26H591.84M585.44 280.66H591.84" stroke="#000" stroke-width="0.7" fill="none"/>
<rect x="586.34" y="275.16" width="4.6" height="4.6" fill="#000"/>
<path d="M635.59 274.84V281.24M632.39 274.84H638.79M632.39 281.24H638.79" stroke="#000" stroke-width="0.7" fill="none"/>
<rect x="633.29" y="275.74" width="4.6" height="4.6" fill="#000"/>
<path d="M413 444.74V451.14M409.8 444.74H416.2M409.8 451.14H416.2" stroke="#000" stroke-width="0.7" fill="none"/>
<rect x="411.1" y="446.04" width="3.8" height="3.8" fill="#fff" stroke="#000" stroke-width="0.9"/>
<path d="M421.69 459.05V465.45M418.49 459.05H424.89M418.49 465.45H424.89" stroke="#000" stroke-width="0.7" fill="none"/>
<rect x="419.79" y="460.35" width="3.8" height="3.8" fill="#fff" stroke="#000" stroke-width="0.9"/>
<path d="M456.47 424.31V430.71M453.27 424.31H459.67M453.27 430.71H459.67" stroke="#000" stroke-width="0.7" fill="none"/>
<rect x="454.57" y="425.61" width="3.8" height="3.8" fill="#fff" stroke="#000" stroke-width="0.9"/>
<path d="M463.43 424.31V430.71M460.23 424.31H466.63M460.23 430.71H466.63" stroke="#000" stroke-width="0.7" fill="none"/>
<rect x="461.53" y="425.61" width="3.8" height="3.8" fill="#fff" stroke="#000" stroke-width="0.9"/>
<path d="M468.64 422.78V429.18M465.44 422.78H471.84M465.44 429.18H471.84" stroke="#000" stroke-width="0.7" fill="none"/>
<rect x="466.74" y="424.08" width="3.8" height="3.8" fill="#fff" stroke="#000" stroke-width="0.9"/>
<path d="M508.64 369.9V376.3M505.44 369.9H511.84M505.44 376.3H511.84" stroke="#000" stroke-width="0.7" fill="none"/>
<rect x="506.74" y="371.2" width="3.8" height="3.8" fill="#fff" stroke="#000" stroke-width="0.9"/>
<path d="M553.86 324.09V330.49M550.66 324.09H557.06M550.66 330.49H557.06" stroke="#000" stroke-width="0.7" fill="none"/>
<rect x="551.96" y="325.39" width="3.8" height="3.8" fill="#fff" stroke="#000" stroke-width="0.9"/>
<path d="M588.64 306.91V313.31M585.44 306.91H591.84M585.44 313.31H591.84" stroke="#000" stroke-width="0.7" fill="none"/>
<rect x="586.74" y="308.21" width="3.8" height="3.8" fill="#fff" stroke="#000" stroke-width="0.9"/>
<path d="M635.59 302.71V309.11M632.39 302.71H638.79M632.39 309.11H638.79" stroke="#000" stroke-width="0.7" fill="none"/>
<rect x="633.69" y="304.01" width="3.8" height="3.8" fill="#fff" stroke="#000" stroke-width="0.9"/>
<circle cx="373" cy="467.6" r="1.9" fill="#fff" stroke="#000" stroke-width="0.9"/>
<rect x="373" y="267.3" width="278.3" height="200.3" fill="none" stroke="#5a5a5a" stroke-width="1" />
<line x1="370.5" y1="467.6" x2="373" y2="467.6" stroke="#5a5a5a" stroke-width="1" />
<text x="366" y="470.4" font-size="8.2" text-anchor="end" >0</text>
<line x1="370.5" y1="429.42" x2="373" y2="429.42" stroke="#5a5a5a" stroke-width="1" />
<text x="366" y="432.22" font-size="8.2" text-anchor="end" >20</text>
<line x1="370.5" y1="391.24" x2="373" y2="391.24" stroke="#5a5a5a" stroke-width="1" />
<text x="366" y="394.04" font-size="8.2" text-anchor="end" >40</text>
<line x1="370.5" y1="353.06" x2="373" y2="353.06" stroke="#5a5a5a" stroke-width="1" />
<text x="366" y="355.86" font-size="8.2" text-anchor="end" >60</text>
<line x1="370.5" y1="314.88" x2="373" y2="314.88" stroke="#5a5a5a" stroke-width="1" />
<text x="366" y="317.68" font-size="8.2" text-anchor="end" >80</text>
<line x1="370.5" y1="276.7" x2="373" y2="276.7" stroke="#5a5a5a" stroke-width="1" />
<text x="366" y="279.5" font-size="8.2" text-anchor="end" >100</text>
<line x1="373" y1="467.6" x2="373" y2="470.6" stroke="#5a5a5a" stroke-width="1" />
<text x="373" y="482.1" font-size="8.0" text-anchor="middle" >0</text>
<line x1="407.78" y1="467.6" x2="407.78" y2="470.6" stroke="#5a5a5a" stroke-width="1" />
<text x="407.78" y="482.1" font-size="8.0" text-anchor="middle" >20</text>
<line x1="442.56" y1="467.6" x2="442.56" y2="470.6" stroke="#5a5a5a" stroke-width="1" />
<text x="442.56" y="482.1" font-size="8.0" text-anchor="middle" >40</text>
<line x1="477.34" y1="467.6" x2="477.34" y2="470.6" stroke="#5a5a5a" stroke-width="1" />
<text x="477.34" y="482.1" font-size="8.0" text-anchor="middle" >60</text>
<line x1="512.12" y1="467.6" x2="512.12" y2="470.6" stroke="#5a5a5a" stroke-width="1" />
<text x="512.12" y="482.1" font-size="8.0" text-anchor="middle" >80</text>
<line x1="546.9" y1="467.6" x2="546.9" y2="470.6" stroke="#5a5a5a" stroke-width="1" />
<text x="546.9" y="482.1" font-size="8.0" text-anchor="middle" >100</text>
<line x1="581.68" y1="467.6" x2="581.68" y2="470.6" stroke="#5a5a5a" stroke-width="1" />
<text x="581.68" y="482.1" font-size="8.0" text-anchor="middle" >120</text>
<line x1="616.46" y1="467.6" x2="616.46" y2="470.6" stroke="#5a5a5a" stroke-width="1" />
<text x="616.46" y="482.1" font-size="8.0" text-anchor="middle" >140</text>
<line x1="651.24" y1="467.6" x2="651.24" y2="470.6" stroke="#5a5a5a" stroke-width="1" />
<text x="651.24" y="482.1" font-size="8.0" text-anchor="middle" >160</text>
<text x="477.5" y="502.2" font-size="9.9" text-anchor="start" >Culture Time (h)</text>
<text transform="translate(342,366.5) rotate(-90)" font-size="9.8" text-anchor="middle">Dye removal (%)</text>
<text x="345.5" y="267" class="pl" font-size="20" fill="#000">d</text>
<line x1="551.4" y1="409.8" x2="612" y2="409.8" stroke="#000" stroke-width="0.75" />
<circle cx="581.7" cy="409.8" r="2" fill="#000"/>
<text x="627" y="412.4" font-size="6.8" text-anchor="start" >0 %</text>
<line x1="551.4" y1="419.2" x2="612" y2="419.2" stroke="#000" stroke-width="0.6" stroke-dasharray="1,1.7"/>
<circle cx="581.7" cy="419.2" r="1.6" fill="#fff" stroke="#000" stroke-width="0.9"/>
<text x="627" y="421.8" font-size="6.8" text-anchor="start" >0.5 %</text>
<line x1="551.4" y1="428.6" x2="612" y2="428.6" stroke="#000" stroke-width="0.75" stroke-dasharray="7.5,3"/>
<path d="M579.5 427H583.9L581.7 430.8Z" fill="#000"/>
<text x="627" y="431.2" font-size="6.8" text-anchor="start" >1.25 %</text>
<line x1="551.4" y1="438.2" x2="612" y2="438.2" stroke="#000" stroke-width="0.75" stroke-dasharray="10,2.5,1,1.5,1,3"/>
<path d="M579.9 439.7H583.5L581.7 436.3Z" fill="#fff" stroke="#000" stroke-width="0.75"/>
<text x="627" y="440.8" font-size="6.8" text-anchor="start" >2.5 %</text>
<line x1="551.4" y1="447.3" x2="612" y2="447.3" stroke="#000" stroke-width="0.75" stroke-dasharray="15,5"/>
<rect x="579.7" y="445.3" width="4" height="4" fill="#000"/>
<text x="627" y="449.9" font-size="6.8" text-anchor="start" >3.75 %</text>
<line x1="551.4" y1="456.7" x2="612" y2="456.7" stroke="#000" stroke-width="0.75" stroke-dasharray="10,2.5,1,2.5"/>
<rect x="580.1" y="455.1" width="3.2" height="3.2" fill="#fff" stroke="#000" stroke-width="0.9"/>
<text x="627" y="459.3" font-size="6.8" text-anchor="start" >5%</text>
</svg>
</body></html>
